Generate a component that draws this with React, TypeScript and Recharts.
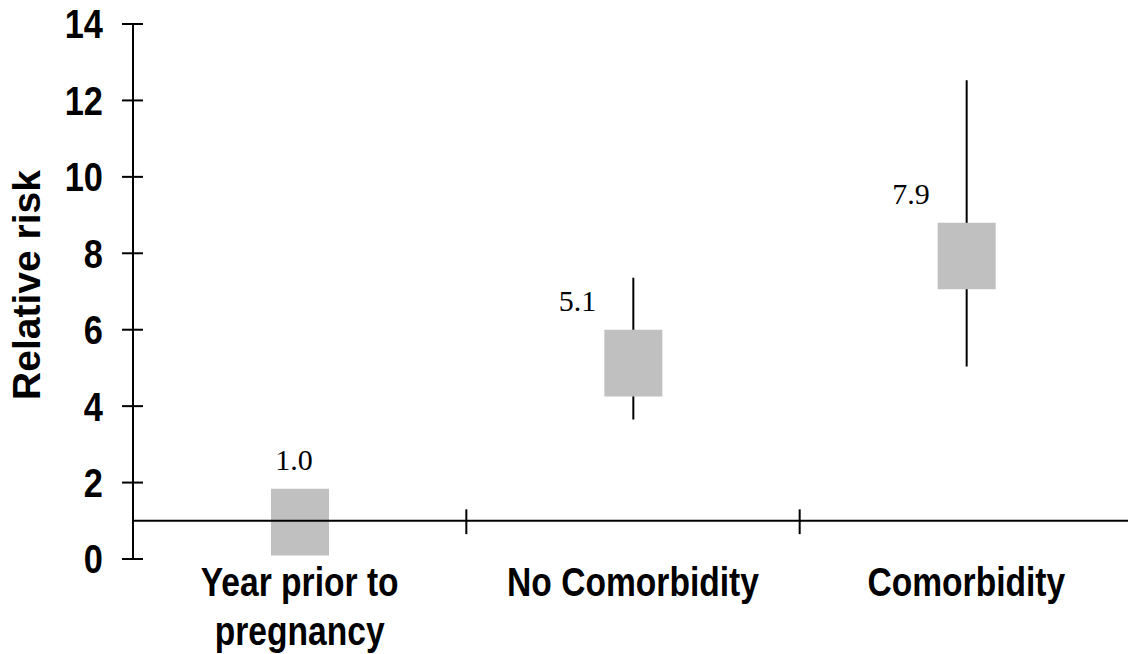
import { ComposedChart, Bar, XAxis, YAxis, ReferenceLine, LabelList } from 'recharts'

const categories = ['Year prior to pregnancy', 'No Comorbidity', 'Comorbidity']
const categoryLines = [['Year prior to', 'pregnancy'], ['No Comorbidity'], ['Comorbidity']]
const relativeRisk = [1.0, 5.1, 7.9]
const boxLow = [0.09, 4.25, 7.06]
const boxHigh = [1.84, 6.0, 8.8]
const ciLow: (number | null)[] = [null, 3.65, 5.04]
const ciHigh: (number | null)[] = [null, 7.36, 12.53]
const yTicks = [0, 2, 4, 6, 8, 10, 12, 14]
const baselineRisk = 1

const data = categories.map((name, i) => ({
  name,
  rr: relativeRisk[i],
  box: [boxLow[i], boxHigh[i]],
  ci: ciLow[i] == null ? null : [ciLow[i], ciHigh[i]],
}))

const sans = "'Liberation Sans', Arial, Helvetica, sans-serif"
const serif = "'Liberation Serif', 'Times New Roman', Times, serif"

function YTick({ x, y, payload }: any) {
  return (
    <g>
      <line x1={x - 11} x2={x + 10} y1={y} y2={y} stroke="#000" strokeWidth={2} />
      <g transform={`translate(${x - 30},${y}) scale(0.86,1)`}>
        <text textAnchor="end" dy="0.36em" fontFamily={sans} fontWeight={700} fontSize={40} fill="#000">
          {payload.value}
        </text>
      </g>
    </g>
  )
}

function XTick({ x, y, payload, index }: any) {
  const i = typeof index === 'number' ? index : categories.indexOf(payload.value)
  const lines = categoryLines[i] ?? [String(payload.value)]
  return (
    <g transform={`translate(${x},${y + 37}) scale(0.84,1)`}>
      {lines.map((l, k) => (
        <text key={k} y={k * 49} textAnchor="middle" fontFamily={sans} fontWeight={700} fontSize={40} fill="#000">
          {l}
        </text>
      ))}
    </g>
  )
}

function RiskLabel(props: any) {
  const { x, y, width, height, value, index } = props
  const top = Math.min(y, y + height)
  // first estimate sits above its box, the others to the left
  const above = index === 0
  return (
    <text
      x={above ? x + width / 2 - 6 : x - 8}
      y={top - 19}
      textAnchor={above ? 'middle' : 'end'}
      fontFamily={serif}
      fontSize={30}
      fill="#000"
    >
      {Number(value).toFixed(1)}
    </text>
  )
}

function AxisTitle(props: any) {
  const vb = props.viewBox
  return (
    <text
      transform={`translate(${vb.x + 25.5},${vb.y + vb.height / 2 - 6.5}) rotate(-90)`}
      textAnchor="middle"
      dy="0.36em"
      fontFamily={sans}
      fontWeight={700}
      fontSize={39}
      fill="#000"
    >
      Relative risk
    </text>
  )
}

export default function App() {
  return (
    <div style={{ position: 'absolute', left: 0, top: 0, width: 1128, height: 654, overflow: 'hidden', background: '#fff' }}>
      <ComposedChart width={1133} height={654} data={data} margin={{ top: 24, right: 0, bottom: 0, left: 0 }}>
        <XAxis
          dataKey="name"
          height={95}
          axisLine={false}
          tickLine={false}
          tickSize={0}
          tickMargin={0}
          interval={0}
          tick={<XTick />}
        />
        <XAxis xAxisId="w" dataKey="name" hide />
        <YAxis
          type="number"
          domain={[0, 14]}
          ticks={yTicks}
          interval={0}
          width={133}
          tickSize={0}
          tickMargin={0}
          tickLine={false}
          axisLine={{ stroke: '#000', strokeWidth: 2 }}
          tick={<YTick />}
          label={(p: any) => <AxisTitle {...p} />}
        />
        <ReferenceLine y={baselineRisk} stroke="#000" strokeWidth={2} />
        {categories.slice(0, -1).map((c) => (
          <ReferenceLine
            key={c}
            position="end"
            segment={[{ x: c, y: baselineRisk - 0.35 }, { x: c, y: baselineRisk + 0.3 }]}
            stroke="#000"
            strokeWidth={2}
          />
        ))}
        <Bar xAxisId="w" dataKey="ci" barSize={2} fill="#000" isAnimationActive={false} />
        <Bar dataKey="box" barSize={58} fill="#c0c0c0" isAnimationActive={false}>
          <LabelList dataKey="rr" content={<RiskLabel />} />
        </Bar>
      </ComposedChart>
    </div>
  )
}
